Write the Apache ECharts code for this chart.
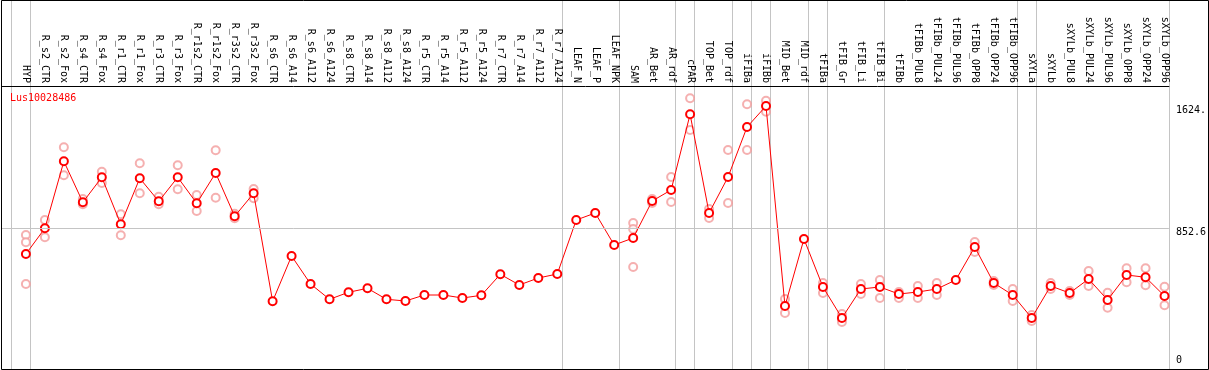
<!DOCTYPE html>
<html>
<head>
<meta charset="utf-8">
<script src="https://cdn.jsdelivr.net/npm/echarts@6/dist/echarts.min.js"></script>
<style>
html,body{margin:0;padding:0;background:#fff;}
#chart{width:1209px;height:370px;}
</style>
</head>
<body>
<div id="chart"></div>
<script>
const geneName = 'Lus10028486';
const categories = ['HYP','R_s2_CTR','R_s2_Fox','R_s4_CTR','R_s4_Fox','R_r1_CTR','R_r1_Fox','R_r3_CTR','R_r3_Fox','R_r1s2_CTR','R_r1s2_Fox','R_r3s2_CTR','R_r3s2_Fox','R_s6_CTR','R_s6_A14','R_s6_A112','R_s6_A124','R_s8_CTR','R_s8_A14','R_s8_A112','R_s8_A124','R_r5_CTR','R_r5_A14','R_r5_A112','R_r5_A124','R_r7_CTR','R_r7_A14','R_r7_A112','R_r7_A124','LEAF_N','LEAF_P','LEAF_NPK','SAM','AR_Bet','AR_rdf','cPAR','TOP_Bet','TOP_rdf','iFIBa','iFIBb','MID_Bet','MID_rdf','tFIBa','tFIB_Gr','tFIB_Li','tFIB_Bi','tFIBb','tFIBb_PUL8','tFIBb_PUL24','tFIBb_PUL96','tFIBb_OPP8','tFIBb_OPP24','tFIBb_OPP96','sXYLa','sXYLb','sXYLb_PUL8','sXYLb_PUL24','sXYLb_PUL96','sXYLb_OPP8','sXYLb_OPP24','sXYLb_OPP96'];
const meanValues = [690.5,852.6,1275.2,1016.6,1174.3,877.8,1168,1022.9,1174.3,1010.3,1201.4,928.3,1073.3,392.2,677.9,501.3,404.8,449,474.2,404.8,394.1,431.9,431.9,413,430,562.5,495,539.1,564.4,904.9,949.1,747.3,791.4,1024.8,1094.2,1571.6,949.1,1176.1,1491.5,1624,362.6,785.1,482.4,286.9,469.8,482.4,438.2,450.8,469.8,526.5,734.7,507.6,431.9,286.9,488.7,444.5,532.8,400.4,558.1,543.6,425.6];
const rep1 = [810.3,904.9,1363.5,1037.4,1209.6,940.9,1262.6,1051.9,1249.9,1062.6,1344.6,944.7,1100.5,null,null,null,null,null,null,null,null,null,null,null,null,null,null,null,null,null,null,null,886,1037.4,1176.1,1672.5,974.3,1346.4,1634.7,1657.4,406.7,null,507.6,312.1,501.3,526.5,450.8,488.7,507.6,null,766.2,520.2,469.8,305.8,507.6,457.2,583.3,446.4,600.3,600.3,484.3];
const rep2 = [764.3,795.8,1186.9,1004,1138.3,808.5,1073.3,1004,1098.6,961.7,1045.6,915.7,1041.8,null,null,null,null,null,null,null,null,null,null,null,null,null,null,null,null,null,null,null,848.2,1012.2,1018.5,1472.6,917.6,1012.2,1346.4,1588,318.4,null,444.5,261.6,438.2,413,413,413,431.9,null,703.1,495,394.1,267.9,469.8,431.9,488.7,351.8,512,493.1,367];
const rep3 = [501.3,null,null,null,null,null,null,null,null,null,null,null,null,null,null,null,null,null,null,null,null,null,null,null,null,null,null,null,null,null,null,null,608.5,null,null,null,null,null,null,null,null,null,null,null,null,null,null,null,null,null,null,null,null,null,null,null,null,null,null,null,null];
const groupEnds = [-1,0,28,31,34,35,37,38,39,41,42,45,52,53,60];
const yTickValues = [0, 852.6, 1624];
const yTickLabels = ['0', '852.6', '1624.'];

const idx = categories.map((c, i) => i);
const meanData = meanValues.map((v, i) => [i, v]);
const repData = [];
[rep1, rep2, rep3].forEach(arr => arr.forEach((v, i) => { if (v !== null) repData.push([i, v]); }));

const chart = echarts.init(document.getElementById('chart'), null, {renderer: 'canvas'});
const mono = 'DejaVu Sans Mono';
const border = {
  type: 'rect', silent: true, z: 100,
  shape: {x: 1.5, y: 0.5, width: 1207, height: 369},
  style: {fill: null, stroke: '#000', lineWidth: 1}
};
chart.setOption({
  animation: false,
  backgroundColor: '#ffffff',
  title: {
    text: geneName, left: 10, top: 93, padding: 0,
    textStyle: {color: '#ff0000', fontSize: 10, fontWeight: 'normal', fontFamily: mono}
  },
  graphic: [border],
  grid: {left: 2, top: 86, right: 38, height: 283, containLabel: false},
  xAxis: {
    type: 'value', position: 'top', min: -1.26, max: 60.23,
    axisLine: {show: true, onZero: false, lineStyle: {color: '#000', width: 1}},
    axisTick: {show: false},
    splitLine: {show: false},
    axisLabel: {
      customValues: idx, rotate: 90, margin: 3,
      fontFamily: mono, fontSize: 10, color: '#000',
      padding: [0, 0, 3, 0],
      formatter: v => categories[Math.round(v)] || ''
    }
  },
  yAxis: {
    type: 'value', position: 'right', min: -34.8, max: 1750.1,
    axisLine: {show: false, onZero: false}, axisTick: {show: false}, splitLine: {show: false},
    axisLabel: {
      customValues: yTickValues, margin: 7, align: 'left', verticalAlign: 'middle',
      fontFamily: mono, fontSize: 10, color: '#000',
      formatter: v => {
        const k = yTickValues.findIndex(t => Math.abs(t - v) < 1e-6);
        const s = k >= 0 ? yTickLabels[k] : '';
        return v === 0 ? '{b|' + s + '}' : '{t|' + s + '}';
      },
      rich: {
        t: {padding: [9, 0, 0, 0], fontFamily: mono, fontSize: 10, color: '#000'},
        b: {padding: [0, 0, 7, 0], fontFamily: mono, fontSize: 10, color: '#000'}
      }
    }
  },
  series: [
    {
      type: 'scatter', data: repData, symbol: 'emptyCircle', symbolSize: 8,
      itemStyle: {color: '#f29c9c', borderColor: '#f29c9c', borderWidth: 1.1}, z: 2, silent: true,
      markLine: {
        silent: true, symbol: 'none', label: {show: false},
        lineStyle: {color: '#c4c4c4', width: 1, type: 'solid'},
        data: [{yAxis: yTickValues[1]}]
      }
    },
    {
      type: 'line', data: meanData, symbol: 'emptyCircle', symbolSize: 8,
      lineStyle: {color: '#ff0000', width: 1},
      itemStyle: {color: '#ff0000', borderColor: '#ff0000', borderWidth: 1.7},
      z: 3, silent: true
    }
  ]
});
// group separators: full-height lines placed through the x axis scale
const sepLines = groupEnds.map(b => {
  const px = Math.round(chart.convertToPixel({xAxisIndex: 0}, b + 0.23)) + 0.5;
  return {
    type: 'line', silent: true, z: -1,
    shape: {x1: px, y1: 1, x2: px, y2: 369},
    style: {stroke: '#c4c4c4', lineWidth: 1}
  };
});
chart.setOption({graphic: [border].concat(sepLines)}, {replaceMerge: ['graphic']});
</script>
</body>
</html>
